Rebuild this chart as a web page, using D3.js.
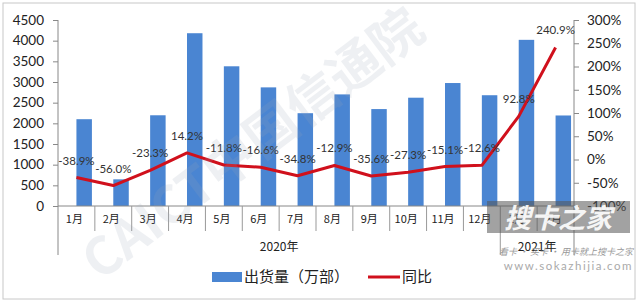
<!DOCTYPE html>
<html>
<head>
<meta charset="utf-8">
<script src="https://cdn.jsdelivr.net/npm/d3@7"></script>
<style>
  body { margin: 0; background: #fff; }
  svg text { font-family: Lato, "Noto Sans CJK SC", sans-serif; fill: #222; }
</style>
</head>
<body>
<div id="chart"></div>
<script>
// data
var months = ["1月","2月","3月","4月","5月","6月","7月","8月","9月","10月","11月","12月","1月","2月"];
var years = [{label: "2020年", from: 0, to: 12}, {label: "2021年", from: 12, to: 14}];
var shipments = [2100, 645, 2195, 4180, 3380, 2870, 2245, 2700, 2345, 2620, 2975, 2680, 4020, 2190];
var yoy = [-38.9, -56.0, -23.3, 14.2, -11.8, -16.6, -34.8, -12.9, -35.6, -27.3, -15.1, -12.6, 92.8, 240.9];
var leftTicks = [0, 500, 1000, 1500, 2000, 2500, 3000, 3500, 4000, 4500];
var rightTicks = [-100, -50, 0, 50, 100, 150, 200, 250, 300];

var W = 640, H = 305;
var margin = {top: 20, right: 66, bottom: 99, left: 58};
var width = W - margin.left - margin.right,
    height = H - margin.top - margin.bottom;

var root = d3.select("#chart").append("svg")
  .attr("width", W).attr("height", H);

// outer frame
root.append("rect")
  .attr("x", 3).attr("y", 3).attr("width", 632).attr("height", 296)
  .attr("fill", "none").attr("stroke", "#c8c8c8").attr("stroke-width", 1);

var svg = root.append("g")
  .attr("transform", "translate(" + margin.left + "," + margin.top + ")");

var idx = months.map(function(d, i) { return i; });
var x = d3.scaleBand().domain(idx).range([0, width]).padding(0);
var y = d3.scaleLinear().domain([0, 4500]).range([height, 0]);
var y2 = d3.scaleLinear().domain([-100, 300]).range([height, 0]);

// watermark (faint)
root.append("text")
  .attr("transform", "translate(100,282) rotate(-37)")
  .style("font-family", "'Noto Sans CJK SC', sans-serif")
  .style("font-weight", "bold")
  .style("font-size", "52px")
  .style("fill", "#9aa6b8")
  .style("opacity", 0.16)
  .text("CAICT中国信通院");

// bars
svg.selectAll(".bar")
  .data(shipments)
  .enter()
  .append("rect")
    .attr("class", "bar")
    .attr("x", function(d, i) { return x(i) + x.bandwidth() / 2; })
    .attr("width", x.bandwidth() * 0.42)
    .attr("y", function(d) { return y(d); })
    .attr("height", function(d) { return height - y(d); })
    .style("fill", "#4a85d2");

// left axis
var left = svg.append("g")
  .call(d3.axisLeft(y).tickValues(leftTicks).tickSize(5).tickPadding(9)
    .tickFormat(d3.format("d")));
left.select(".domain").attr("stroke", "#888").attr("d", "M0,0V" + (height + 49));
left.selectAll(".tick line").attr("stroke", "#888");
left.selectAll("text").style("font-size", "13.5px").style("fill", "#222");

// right axis
var right = svg.append("g")
  .attr("transform", "translate(" + width + ",0)")
  .call(d3.axisRight(y2).tickValues(rightTicks).tickSize(5).tickPadding(8)
    .tickFormat(function(d) { return d + "%"; }));
right.select(".domain").attr("stroke", "#888").attr("d", "M0,0V" + (height + 49));
right.selectAll(".tick line").attr("stroke", "#888");
right.selectAll("text").style("font-size", "13.5px").style("fill", "#222");

// category axis
svg.append("line")
  .attr("x1", 0).attr("x2", width).attr("y1", height).attr("y2", height)
  .attr("stroke", "#888");
svg.selectAll(".sep")
  .data(idx.slice(1))
  .enter()
  .append("line")
    .attr("x1", function(i) { return x(i); })
    .attr("x2", function(i) { return x(i); })
    .attr("y1", height)
    .attr("y2", function(i) { return i === 12 ? height + 49 : height + 25; })
    .attr("stroke", "#999");
svg.selectAll(".mlabel")
  .data(months)
  .enter()
  .append("text")
    .attr("x", function(d, i) { return x(i) + x.bandwidth() / 2 - 2; })
    .attr("y", height + 17)
    .attr("text-anchor", "middle")
    .style("font-family", "'Noto Sans CJK SC', sans-serif")
    .style("font-size", "11px")
    .text(function(d) { return d; });
svg.selectAll(".ylabel")
  .data(years)
  .enter()
  .append("text")
    .attr("x", function(d) { return (x(d.from) + x(d.to - 1) + x.bandwidth()) / 2; })
    .attr("y", height + 45)
    .attr("text-anchor", "middle")
    .style("font-family", "'Noto Sans CJK SC', sans-serif")
    .style("font-size", "12px")
    .text(function(d) { return d.label; });

// line
var line = d3.line()
  .x(function(d, i) { return x(i) + x.bandwidth() / 2; })
  .y(function(d) { return y2(d); });
svg.append("path")
  .datum(yoy)
  .attr("d", line)
  .style("fill", "none")
  .style("stroke", "#d0101c")
  .style("stroke-width", 3)
  .style("stroke-linejoin", "round");

// data labels
svg.selectAll(".dlabel")
  .data(yoy)
  .enter()
  .append("text")
    .attr("x", function(d, i) { return x(i) + x.bandwidth() / 2; })
    .attr("y", function(d) { return y2(d) - 13; })
    .attr("text-anchor", "middle")
    .style("font-size", "11.5px")
    .style("fill", "#333")
    .text(function(d) { return d.toFixed(1) + "%"; });

// legend
var legend = root.append("g");
legend.append("rect")
  .attr("x", 212).attr("y", 272).attr("width", 30).attr("height", 10)
  .style("fill", "#4a85d2");
legend.append("text")
  .attr("x", 244).attr("y", 282)
  .style("font-family", "'Noto Sans CJK SC', sans-serif")
  .style("font-size", "15px")
  .text("出货量（万部）");
legend.append("line")
  .attr("x1", 368).attr("x2", 400).attr("y1", 277).attr("y2", 277)
  .style("stroke", "#d0101c").style("stroke-width", 3);
legend.append("text")
  .attr("x", 402).attr("y", 282)
  .style("font-family", "'Noto Sans CJK SC', sans-serif")
  .style("font-size", "15px")
  .text("同比");

// site watermark
var wm = root.append("g");
wm.append("rect")
  .attr("x", 487).attr("y", 201).attr("width", 143).attr("height", 32)
  .style("fill", "#555").style("opacity", 0.55);
wm.append("text")
  .attr("x", 558).attr("y", 228)
  .attr("text-anchor", "middle")
  .style("font-family", "'Noto Sans CJK SC', sans-serif")
  .style("font-weight", "bold").style("font-style", "italic")
  .style("font-size", "27px")
  .style("fill", "#fff").style("opacity", 0.9)
  .text("搜卡之家");
wm.append("text")
  .attr("x", 633).attr("y", 255)
  .attr("text-anchor", "end")
  .style("font-family", "'Noto Sans CJK SC', sans-serif")
  .style("font-style", "italic")
  .style("font-size", "9px")
  .style("fill", "#999")
  .text("看卡 · 买卡 · 用卡就上搜卡之家");
wm.append("text")
  .attr("x", 633).attr("y", 270)
  .attr("text-anchor", "end")
  .style("font-size", "11.5px")
  .style("letter-spacing", "1.5px")
  .style("fill", "#aaa")
  .text("www.sokazhijia.com");
</script>
</body>
</html>
